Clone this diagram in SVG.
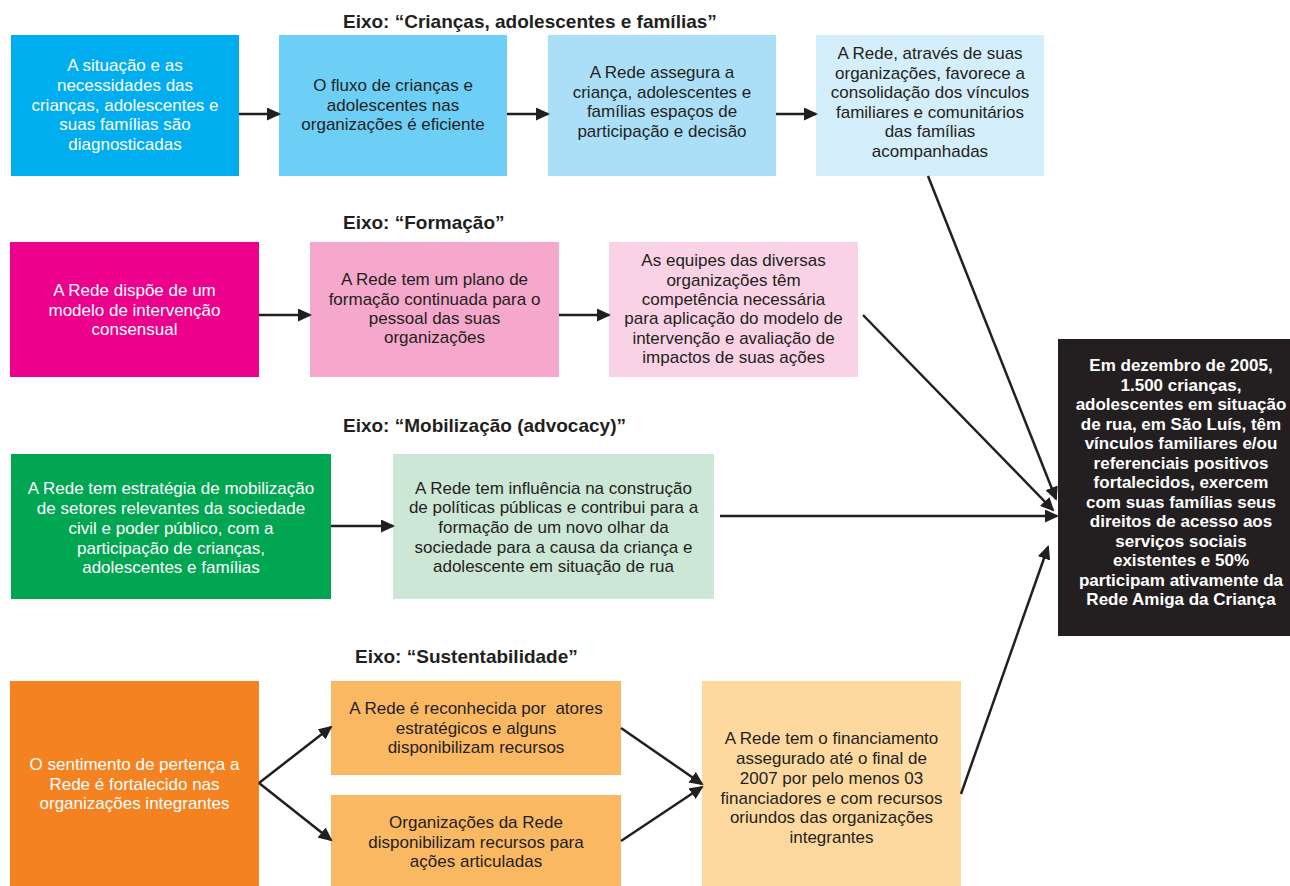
<svg xmlns="http://www.w3.org/2000/svg" width="1290" height="886" viewBox="0 0 1290 886">
<style>
  .t { font-family: "Liberation Sans", Arial, sans-serif; font-size: 17px; text-anchor: middle; fill: #231f20; }
  .w { fill: #ffffff; }
  .b { font-family: "Liberation Sans", Arial, sans-serif; font-size: 17px; font-weight: bold; text-anchor: middle; fill: #ffffff; }
  .h { font-family: "Liberation Sans", Arial, sans-serif; font-size: 19px; font-weight: bold; fill: #231f20; }
  .c { stroke: #231f20; stroke-width: 2.5; fill: none; marker-end: url(#ah); }
</style>
<defs>
  <marker id="ah" markerUnits="userSpaceOnUse" markerWidth="14" markerHeight="13" refX="12" refY="6.5" orient="auto">
    <path d="M0,0 L14,6.5 L0,13 Z" fill="#231f20"/>
  </marker>
</defs>
<rect width="1290" height="886" fill="#ffffff"/>

<g id="titles">
  <text class="h" x="343" y="27.5">Eixo: “Crianças, adolescentes e famílias”</text>
  <text class="h" x="343" y="229">Eixo: “Formação”</text>
  <text class="h" x="343" y="432">Eixo: “Mobilização (advocacy)”</text>
  <text class="h" x="355" y="663">Eixo: “Sustentabilidade”</text>
</g>

<g id="n1a">
  <rect x="11" y="35" width="228" height="141" fill="#00aeef"/>
  <text class="t w" x="125"><tspan x="125" y="71">A situação e as</tspan><tspan x="125" y="91">necessidades das</tspan><tspan x="125" y="110.5">crianças, adolescentes e</tspan><tspan x="125" y="130">suas famílias são</tspan><tspan x="125" y="150">diagnosticadas</tspan></text>
</g>
<g id="n1b">
  <rect x="279" y="35" width="228" height="141" fill="#6dcff6"/>
  <text class="t" x="393"><tspan x="393" y="91">O fluxo de crianças e</tspan><tspan x="393" y="110.5">adolescentes nas</tspan><tspan x="393" y="130">organizações é eficiente</tspan></text>
</g>
<g id="n1c">
  <rect x="548" y="35" width="228" height="141" fill="#abdff8"/>
  <text class="t" x="662"><tspan x="662" y="77.5">A Rede assegura a</tspan><tspan x="662" y="97.5">criança, adolescentes e</tspan><tspan x="662" y="117">famílias espaços de</tspan><tspan x="662" y="136.5">participação e decisão</tspan></text>
</g>
<g id="n1d">
  <rect x="816" y="35" width="228" height="141" fill="#d4eefb"/>
  <text class="t" x="930"><tspan x="930" y="59">A Rede, através de suas</tspan><tspan x="930" y="78.5">organizações, favorece a</tspan><tspan x="930" y="98">consolidação dos vínculos</tspan><tspan x="930" y="117.5">familiares e comunitários</tspan><tspan x="930" y="137">das famílias</tspan><tspan x="930" y="156.5">acompanhadas</tspan></text>
</g>

<g id="n2a">
  <rect x="10" y="242" width="249" height="135" fill="#ec008c"/>
  <text class="t w" x="134.5"><tspan x="134.5" y="295.5">A Rede dispõe de um</tspan><tspan x="134.5" y="315.5">modelo de intervenção</tspan><tspan x="134.5" y="335">consensual</tspan></text>
</g>
<g id="n2b">
  <rect x="310" y="242" width="249" height="135" fill="#f5a8cc"/>
  <text class="t" x="434.5"><tspan x="434.5" y="284.5">A Rede tem um plano de</tspan><tspan x="434.5" y="304.5">formação continuada para o</tspan><tspan x="434.5" y="324">pessoal das suas</tspan><tspan x="434.5" y="343">organizações</tspan></text>
</g>
<g id="n2c">
  <rect x="609" y="242" width="249" height="135" fill="#f9d3e5"/>
  <text class="t" x="733.5"><tspan x="733.5" y="265.5">As equipes das diversas</tspan><tspan x="733.5" y="285.5">organizações têm</tspan><tspan x="733.5" y="304.5">competência necessária</tspan><tspan x="733.5" y="324">para aplicação do modelo de</tspan><tspan x="733.5" y="343.5">intervenção e avaliação de</tspan><tspan x="733.5" y="363">impactos de suas ações</tspan></text>
</g>

<g id="n3a">
  <rect x="11" y="454" width="320" height="145" fill="#00a651"/>
  <text class="t w" x="171"><tspan x="171" y="494">A Rede tem estratégia de mobilização</tspan><tspan x="171" y="514">de setores relevantes da sociedade</tspan><tspan x="171" y="534">civil e poder público, com a</tspan><tspan x="171" y="553.5">participação de crianças,</tspan><tspan x="171" y="572.5">adolescentes e famílias</tspan></text>
</g>
<g id="n3b">
  <rect x="393" y="454" width="321" height="145" fill="#cde7d6"/>
  <text class="t" x="553.5"><tspan x="553.5" y="494">A Rede tem influência na construção</tspan><tspan x="553.5" y="513">de políticas públicas e contribui para a</tspan><tspan x="553.5" y="533">formação de um novo olhar da</tspan><tspan x="553.5" y="552.5">sociedade para a causa da criança e</tspan><tspan x="553.5" y="572">adolescente em situação de rua</tspan></text>
</g>

<g id="n4a">
  <rect x="10" y="681" width="249" height="205" fill="#f58220"/>
  <text class="t w" x="134.5"><tspan x="134.5" y="770">O sentimento de pertença a</tspan><tspan x="134.5" y="789.5">Rede é fortalecido nas</tspan><tspan x="134.5" y="809">organizações integrantes</tspan></text>
</g>
<g id="n4b">
  <rect x="331" y="681" width="290" height="94" fill="#fbb862"/>
  <text class="t" x="476"><tspan x="476" y="714" xml:space="preserve">A Rede é reconhecida por  atores</tspan><tspan x="476" y="734">estratégicos e alguns</tspan><tspan x="476" y="753">disponibilizam recursos</tspan></text>
</g>
<g id="n4c">
  <rect x="331" y="795" width="290" height="91" fill="#fbb862"/>
  <text class="t" x="476"><tspan x="476" y="827.5">Organizações da Rede</tspan><tspan x="476" y="847.5">disponibilizam recursos para</tspan><tspan x="476" y="866.5">ações articuladas</tspan></text>
</g>
<g id="n4d">
  <rect x="702" y="681" width="259" height="205" fill="#fdd99f"/>
  <text class="t" x="831.5"><tspan x="831.5" y="744">A Rede tem o financiamento</tspan><tspan x="831.5" y="764">assegurado até o final de</tspan><tspan x="831.5" y="783.5">2007 por pelo menos 03</tspan><tspan x="831.5" y="803.5">financiadores e com recursos</tspan><tspan x="831.5" y="822.5">oriundos das organizações</tspan><tspan x="831.5" y="842.5">integrantes</tspan></text>
</g>

<g id="goal">
  <rect x="1058" y="339" width="232" height="297" fill="#231f20"/>
  <text class="b" x="1181"><tspan x="1181" y="371">Em dezembro de 2005,</tspan><tspan x="1181" y="390.5">1.500 crianças,</tspan><tspan x="1181" y="410">adolescentes em situação</tspan><tspan x="1181" y="429.5">de rua, em São Luís, têm</tspan><tspan x="1181" y="449">vínculos familiares e/ou</tspan><tspan x="1181" y="468.5">referenciais positivos</tspan><tspan x="1181" y="488">fortalecidos, exercem</tspan><tspan x="1181" y="507.5">com suas famílias seus</tspan><tspan x="1181" y="527">direitos de acesso aos</tspan><tspan x="1181" y="546.5">serviços sociais</tspan><tspan x="1181" y="566">existentes e 50%</tspan><tspan x="1181" y="585.5">participam ativamente da</tspan><tspan x="1181" y="605">Rede Amiga da Criança</tspan></text>
</g>

<g id="connectors">
  <line class="c" x1="239" y1="114" x2="279" y2="114"/>
  <line class="c" x1="507" y1="114" x2="548" y2="114"/>
  <line class="c" x1="776" y1="114" x2="816" y2="114"/>
  <line class="c" x1="259" y1="315" x2="310" y2="315"/>
  <line class="c" x1="559" y1="315" x2="609" y2="315"/>
  <line class="c" x1="331" y1="526" x2="393" y2="526"/>
  <line class="c" x1="720" y1="516" x2="1057" y2="516"/>
  <line class="c" x1="928" y1="176" x2="1056" y2="499"/>
  <line class="c" x1="863" y1="315" x2="1053" y2="510"/>
  <line class="c" x1="961" y1="794" x2="1048" y2="547"/>
  <line class="c" x1="259" y1="783" x2="331" y2="727"/>
  <line class="c" x1="259" y1="783" x2="331" y2="840"/>
  <line class="c" x1="621" y1="728" x2="702" y2="784"/>
  <line class="c" x1="621" y1="841" x2="702" y2="787"/>
</g>
</svg>
